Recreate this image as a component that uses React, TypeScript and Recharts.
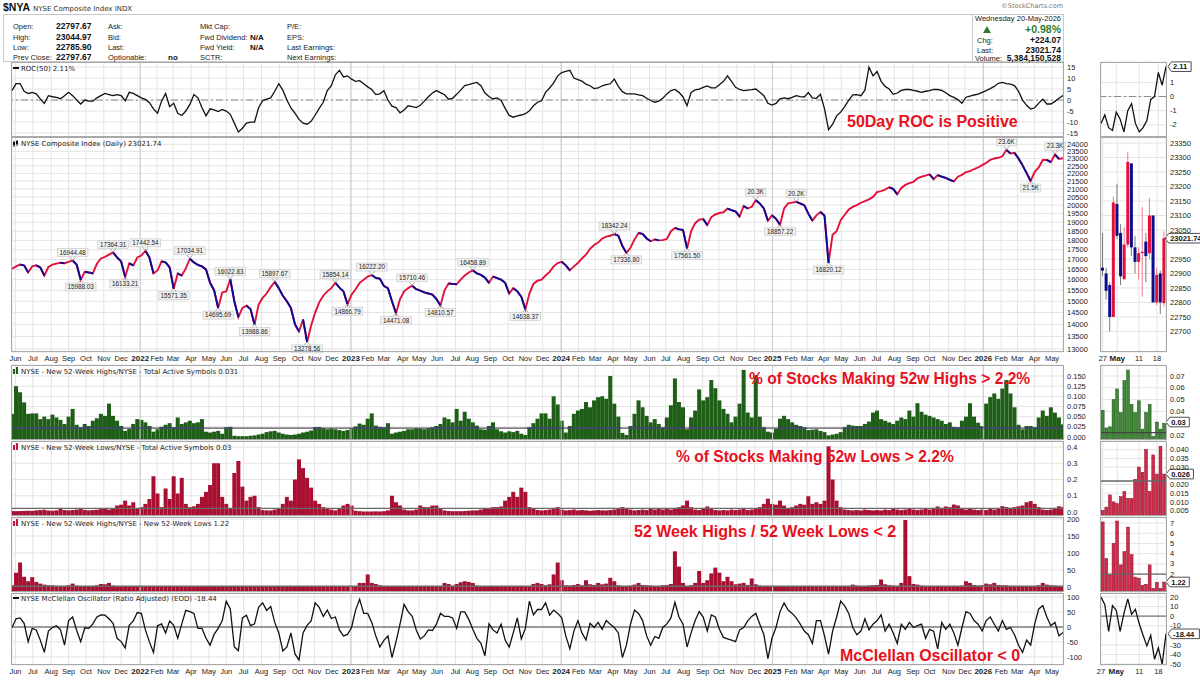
import React from "react";
import {
  ComposedChart,
  Line,
  Bar,
  XAxis,
  YAxis,
  CartesianGrid,
  ReferenceLine,
  ReferenceDot,
} from "recharts";

// ---------------- DATA (weekly samples, week 0 = 2021-05-26, week 260 = 2026-05-20) ----------------
const START_DATE = "2021-05-26";

const priceWeekly = [
  16530, 16650, 16740, 16700, 16350, 16650, 16700, 16600, 16200, 16620,
  16740, 16790, 16830, 16810, 16880, 16944.48, 16740, 15988.03, 16380, 16350,
  16300, 16780, 17050, 17130, 17250, 17364.31, 17100, 16900, 16133.21, 16800,
  16700, 17100, 17200, 17442.54, 17100, 16300, 16450, 16900, 16850, 16600,
  15571.35, 16300, 16200, 16550, 17034.91, 16850, 16720, 16650, 16500, 15850,
  15500, 14695.69, 15400, 15450, 16022.83, 15000, 14300, 14700, 14800, 14650,
  13988.86, 14850, 15150, 15350, 15650, 15897.67, 15600, 15250, 15000, 14700,
  14000, 13700, 14200, 13278.56, 13950, 14500, 14950, 15250, 15450, 15600,
  15854.14, 15620, 15450, 14866.79, 15300, 15550, 15850, 16000, 16150, 16222.2,
  16080, 16050, 15700, 15600, 15000, 14471.08, 15100, 15450, 15600, 15710.46,
  15550, 15480, 15400, 15350, 15300, 15100, 14810.57, 15500, 15820, 15800,
  15780, 16000, 16200, 16350, 16458.89, 16300, 16230, 16100, 15850, 16150,
  16080, 16000, 15850, 15350, 15600, 15450, 15200, 14638.37, 15350, 15800,
  15950, 16000, 16200, 16380, 16650, 16820, 16880, 16700, 16450, 16650,
  16820, 17050, 17250, 17550, 17750, 17880, 18100, 18200, 18250, 18342.24,
  18250, 17700, 17336.8, 17600, 18050, 18400, 18350, 18100, 17950, 18050,
  18000, 18010, 18080, 18500, 18680, 18600, 18574, 17561.5, 18500, 18950,
  19150, 19187, 18840, 19300, 19450, 19534, 19580, 19800, 19700, 19636,
  19330, 19950, 19800, 19900, 20300, 20100, 19800, 19085, 19400, 19200,
  18857.22, 19800, 20105, 20150, 20207, 20100, 20003, 19500, 19100, 19400,
  19595, 19391, 16820.12, 18300, 18500, 19126, 19432, 19738, 19900, 20000,
  20146, 20248, 20350, 20500, 20798, 20860, 20950, 21100, 21000, 20656,
  21064, 21250, 21370, 21450, 21676, 21778, 21850, 21941, 21615, 21880,
  21778, 21700, 21574, 21472, 21778, 21900, 22084, 22150, 22288, 22390,
  22550, 22696, 22900, 23002, 23050, 23150, 23600, 23350, 23390, 23000,
  22533, 22012, 21500, 22100, 22400, 22900, 22900, 22750, 23280, 22970,
  23021.74,
];

const roc50Weekly = [
  4.3, 7.5, 7.5, 4, 3, 3.5, 2.8, 0.5, -1.5, 2,
  1.5, 1.2, 0.6, 2, 3.5, 2, 0, -1.8, 0, -0.5,
  -0.5, 1, 2, 3, 2.5, 2, 2.5, 2, -0.3, 3.5,
  3, 2, 1, 0.3, -1.2, -4, -6, -0.5, 3, -3,
  -1.5, -6, -7, -5, -2, 2.5, 1, -3.5, -7.2, -4,
  -4.5, -5.2, -4.3, -5, -6.5, -10.5, -14.5, -12.8, -10.5, -10,
  -10, -3.5, -0.3, 0.4, 1, 4, 7.4, 4.5, 0, -3.6,
  -6, -8.8, -10.5, -11, -9.7, -6.8, -3.8, -1, 4.3, 6.5,
  11.5, 13.5, 10.5, 11, 9.5, 8.5, 8.8, 7.4, 6, 4.8,
  2.5, 2.8, 4.2, 0, -2.8, -3.4, -5.8, -4.5, -2.6, -3,
  -3.4, -2.4, -0.5, 1.5, 3.2, 4.3, 3.4, 2.4, 0.4, 0.8,
  2.6, 4.5, 6.6, 7, 7.6, 8, 6.5, 3.2, 1.6, 0.5,
  1, -0.2, -3.8, -7, -7.8, -7.2, -6.8, -6.2, -4.9, -2.6,
  -1, -0.3, 3.5, 5.5, 7.8, 11, 12.5, 13, 13.5, 10,
  9.3, 8.6, 7.2, 6.5, 5.2, 5.5, 6.5, 7, 7.4, 9.5,
  6.2, 3.8, 2.8, 2.8, 2.8, 2.4, 2, 0.8, -0.2, -1,
  -0.5, 0.8, 2.8, 4.3, 4.8, 3.5, 1.4, -2.6, 3.5, 4.6,
  5, 5.8, 6.4, 5.5, 5.5, 7, 8.5, 11, 8.5, 5.8,
  4.8, 4.3, 4.5, 4.7, 5, 3.5, 2, -1.5, -2.3, -1.5,
  0.5, 1, 0.6, 1.2, 2, 1.6, 1.4, 3.4, 1, 0.8,
  2.6, -4, -13.5, -11, -7.2, -5.5, -3, 0, 2.4, 2.5,
  2, 4.5, 15, 11, 13, 8.5, 6.2, 5, 2.6, 3.2,
  4.4, 4.8, 4.8, 4.4, 4, 3.5, 4, 4.3, 4.8, 4.8,
  4.4, 3.3, 2, 1.2, 0.2, -1.5, 1.3, 1.8, 2.3, 2.7,
  3.5, 4.3, 5.2, 6.2, 7.6, 8, 7.5, 7.2, 6.6, 4,
  0, -2.4, -4.1, -3.5, -1.4, 0.4, -1.8, -1.8, -0.6, 0.8,
  2.11,
];

const highsPctWeekly = [
  0.057, 0.125, 0.11, 0.085, 0.057, 0.058, 0.058, 0.044, 0.05, 0.044,
  0.055, 0.048, 0.042, 0.032, 0.05, 0.069, 0.03, 0.023, 0.032, 0.027,
  0.04, 0.046, 0.057, 0.052, 0.082, 0.052, 0.04, 0.027, 0.015, 0.02,
  0.032, 0.044, 0.042, 0.036, 0.027, 0.013, 0.019, 0.025, 0.03, 0.034,
  0.023, 0.048, 0.032, 0.036, 0.04, 0.034, 0.036, 0.044, 0.013, 0.011,
  0.013, 0.015, 0.008, 0.023, 0.025, 0.003, 0.002, 0.002, 0.002, 0.003,
  0.004, 0.006, 0.008, 0.012, 0.014, 0.015, 0.011, 0.008, 0.006, 0.005,
  0.006, 0.008, 0.011, 0.013, 0.016, 0.024, 0.024, 0.022, 0.019, 0.021,
  0.019, 0.017, 0.015, 0.017, 0.021, 0.026, 0.033, 0.03, 0.045, 0.058,
  0.028, 0.025, 0.023, 0.034, 0.008, 0.011, 0.013, 0.015, 0.019, 0.019,
  0.022, 0.021, 0.019, 0.022, 0.023, 0.027, 0.032, 0.048, 0.044, 0.036,
  0.069, 0.04, 0.062, 0.045, 0.036, 0.028, 0.019, 0.018, 0.027, 0.036,
  0.019, 0.014, 0.011, 0.014, 0.012, 0.015, 0.008, 0.005, 0.023, 0.034,
  0.045, 0.058, 0.058, 0.045, 0.1, 0.08, 0.04, 0.011, 0.027, 0.057,
  0.065, 0.069, 0.086, 0.073, 0.09, 0.098, 0.1, 0.094, 0.15, 0.082,
  0.05, 0.01, 0.005, 0.027, 0.057, 0.09, 0.073, 0.052, 0.036, 0.044,
  0.032, 0.023, 0.048, 0.078, 0.144, 0.086, 0.073, 0.019, 0.048, 0.065,
  0.117, 0.09, 0.098, 0.14, 0.12, 0.09, 0.069, 0.057, 0.036, 0.05,
  0.082, 0.165, 0.06, 0.048, 0.152, 0.05, 0.023, 0.013, 0.011, 0.02,
  0.045, 0.052, 0.044, 0.036, 0.03, 0.027, 0.023, 0.017, 0.018, 0.019,
  0.015, 0.012, 0.004, 0.006, 0.008, 0.012, 0.023, 0.03, 0.028, 0.027,
  0.027, 0.032, 0.038, 0.06, 0.065, 0.044, 0.04, 0.036, 0.032, 0.04,
  0.048, 0.044, 0.065, 0.05, 0.083, 0.062, 0.055, 0.052, 0.048, 0.044,
  0.04, 0.032, 0.036, 0.025, 0.023, 0.04, 0.05, 0.083, 0.05, 0.035,
  0.027, 0.082, 0.098, 0.107, 0.094, 0.119, 0.14, 0.107, 0.073, 0.03,
  0.019, 0.027, 0.027, 0.023, 0.048, 0.065, 0.052, 0.073, 0.06, 0.048,
  0.031,
];

const lowsPctWeekly = [
  0.006, 0.005, 0.006, 0.007, 0.008, 0.007, 0.01, 0.012, 0.014, 0.009,
  0.008, 0.01, 0.02, 0.012, 0.01, 0.012, 0.015, 0.02, 0.013, 0.01,
  0.012, 0.014, 0.018, 0.02, 0.015, 0.02, 0.04, 0.045, 0.07, 0.04,
  0.06, 0.02, 0.03, 0.05, 0.08, 0.22, 0.114, 0.03, 0.145, 0.08,
  0.22, 0.114, 0.21, 0.05, 0.03, 0.035, 0.05, 0.093, 0.124, 0.166,
  0.3, 0.3, 0.093, 0.05, 0.025, 0.24, 0.314, 0.156, 0.07, 0.093,
  0.1, 0.03, 0.012, 0.01, 0.01, 0.015, 0.02, 0.05, 0.093, 0.07,
  0.2, 0.324, 0.27, 0.21, 0.15, 0.07, 0.05, 0.03, 0.02, 0.015,
  0.01, 0.02, 0.04, 0.05, 0.04, 0.008, 0.005, 0.003, 0.003, 0.003,
  0.004, 0.003, 0.005, 0.01, 0.1, 0.06, 0.04, 0.015, 0.01, 0.01,
  0.015, 0.04, 0.03, 0.03, 0.04, 0.04, 0.02, 0.01, 0.006, 0.005,
  0.005, 0.005, 0.006, 0.008, 0.01, 0.01, 0.015, 0.02, 0.02, 0.03,
  0.03, 0.034, 0.07, 0.093, 0.124, 0.093, 0.15, 0.124, 0.03, 0.02,
  0.012, 0.01, 0.012, 0.015, 0.025, 0.03, 0.015, 0.01, 0.012, 0.015,
  0.01, 0.012, 0.01, 0.008, 0.01, 0.012, 0.01, 0.01, 0.012, 0.015,
  0.02, 0.03, 0.025, 0.015, 0.01, 0.012, 0.015, 0.012, 0.02, 0.015,
  0.02, 0.015, 0.02, 0.015, 0.025, 0.03, 0.04, 0.07, 0.03, 0.015,
  0.012, 0.02, 0.034, 0.02, 0.012, 0.01, 0.012, 0.01, 0.015, 0.012,
  0.015, 0.02, 0.012, 0.015, 0.02, 0.03, 0.05, 0.082, 0.05, 0.045,
  0.07, 0.04, 0.025, 0.03, 0.04, 0.05, 0.045, 0.097, 0.05, 0.06,
  0.05, 0.07, 0.404, 0.2, 0.07, 0.03, 0.015, 0.012, 0.01, 0.012,
  0.01, 0.015, 0.012, 0.01, 0.012, 0.01, 0.015, 0.012, 0.02, 0.015,
  0.012, 0.015, 0.02, 0.015, 0.012, 0.015, 0.02, 0.015, 0.025, 0.034,
  0.025, 0.034, 0.03, 0.046, 0.04, 0.025, 0.015, 0.02, 0.015, 0.012,
  0.015, 0.012, 0.02, 0.015, 0.025, 0.036, 0.03, 0.025, 0.03, 0.035,
  0.04, 0.06, 0.067, 0.05, 0.03, 0.015, 0.012, 0.015, 0.02, 0.035,
  0.03,
];

const hiLoRatioWeekly = [
  5, 42, 72, 30, 17, 29, 15, 10, 7, 5,
  5, 3, 3, 3, 5, 10, 4, 2, 3, 2,
  3, 5, 9, 8, 12, 4, 2, 1, 1, 1,
  1.5, 2, 1.5, 1, 0.6, 0.3, 0.4, 0.8, 0.4, 0.5,
  0.3, 0.5, 0.3, 0.8, 1, 0.8, 0.6, 0.4, 0.3, 0.2,
  0.1, 0.1, 0.2, 0.5, 0.8, 0.1, 0.1, 0.2, 0.3, 0.2,
  0.2, 0.5, 1, 1.5, 1.5, 1.2, 0.6, 0.3, 0.2, 0.2,
  0.1, 0.1, 0.1, 0.1, 0.2, 0.4, 0.6, 0.8, 1.2, 1.5,
  2, 1, 0.5, 0.4, 0.6, 3, 12, 12, 37, 12,
  9, 5, 3, 2, 0.3, 0.2, 0.4, 1, 2, 2,
  1.5, 0.6, 0.7, 0.8, 0.6, 0.7, 3, 12, 9, 4,
  9, 14, 17, 15, 12, 4, 2, 1, 1.5, 1.2,
  0.8, 0.5, 0.2, 0.2, 0.1, 0.2, 0.1, 0.1, 1, 9,
  12, 9, 5, 8, 37, 72, 20, 5, 4, 6,
  9, 5, 20, 8, 6, 12, 8, 10, 27, 17,
  5, 2, 1, 4, 7, 12, 6, 5, 4, 3,
  3, 5, 6, 9, 105, 60, 12, 0.3, 5, 12,
  47, 12, 20, 40, 57, 42, 17, 30, 17, 8,
  10, 12, 6, 25, 8, 4, 2, 0.5, 0.4, 0.6,
  0.6, 1.5, 3, 2, 1, 0.8, 0.6, 0.2, 0.5, 0.4,
  0.3, 0.2, 0.01, 0.05, 0.1, 0.5, 1.5, 3, 7, 4,
  3, 3, 4, 5, 6, 22, 8, 5, 4, 3,
  12, 197, 32, 9, 7, 4, 3, 3, 2, 2,
  2, 1.5, 2, 1.5, 2, 4, 17, 12, 6, 4,
  5, 10, 8, 12, 6, 5, 5, 3, 2, 1.5,
  1, 0.5, 0.6, 1, 5, 12, 7, 5, 4, 3,
  1.22,
];

const mcClellanWeekly = [
  -2, 27, 30, 12, -49, -5, -10, -44, -85, -14,
  -2, 4, -10, -61, 21, 33, -12, -49, -3, -5,
  10, 33, 40, 39, 27, 12, -38, -49, -70, 5,
  20, 48, 45, -10, -50, -85, 4, 10, -20, 20,
  5, -38, 10, 55, 51, 45, -5, -5, -38, -61,
  -25, -5, 20, 86, 60, -67, -79, 30, 39, 4,
  10, 65, 80, 55, 68, 15, -20, -80, -67, -20,
  -90, -110, -20, 5, 20, 80, 65, 35, 56, 28,
  33, -10, -30, -25, -2, 56, 92, 45, 45, 15,
  -30, -67, -45, -30, -102, -49, 10, 75, 51, 35,
  -10, -40, -30, -10, -12, 9, 45, 35, 35, 30,
  -5, 50, 50, 25, -8, -38, -55, -96, 10, -10,
  -20, 9, -44, -67, -20, 30, -40, -5, 86, 40,
  58, 58, 80, 39, 56, 45, 30, -30, -73, -14,
  21, -20, -44, 12, -2, 15, -8, 21, 9, -2,
  -20, -102, -61, 9, 56, 45, 21, -30, -61, -32,
  -38, -2, 10, 30, 82, 33, 9, -67, -20, 21,
  51, 33, -14, 40, 33, -8, -35, -40, -44, -49,
  -10, -2, 20, 35, 45, 9, -26, -106, -38, -2,
  51, 80, 56, 45, 30, 9, -14, -26, -55, 21,
  21, -30, -91, -14, 33, 86, 70, 45, -2, -26,
  -14, 27, -10, 9, 21, 40, -14, 9, -20, -55,
  9, -8, 15, -2, 4, 9, -38, -8, -14, -73,
  15, -8, 9, -20, -61, -2, 51, 45, 21, 9,
  -14, 21, 33, 9, -14, 21, -8, -2, -26, -61,
  -85, -44, -61, 10, 60, 71, 33, 4, 15, -30,
  -18.44,
];

const monthTickDates = [
  "2021-06-01", "2021-07-01", "2021-08-02", "2021-09-01", "2021-10-01", "2021-11-01", "2021-12-01",
  "2022-01-03", "2022-02-01", "2022-03-01", "2022-04-01", "2022-05-02", "2022-06-01", "2022-07-01",
  "2022-08-01", "2022-09-01", "2022-10-03", "2022-11-01", "2022-12-01",
  "2023-01-03", "2023-02-01", "2023-03-01", "2023-04-03", "2023-05-01", "2023-06-01", "2023-07-03",
  "2023-08-01", "2023-09-01", "2023-10-02", "2023-11-01", "2023-12-01",
  "2024-01-02", "2024-02-01", "2024-03-01", "2024-04-01", "2024-05-01", "2024-06-03", "2024-07-01",
  "2024-08-01", "2024-09-03", "2024-10-01", "2024-11-01", "2024-12-02",
  "2025-01-02", "2025-02-03", "2025-03-03", "2025-04-01", "2025-05-01", "2025-06-02", "2025-07-01",
  "2025-08-01", "2025-09-02", "2025-10-01", "2025-11-03", "2025-12-01",
  "2026-01-02", "2026-02-02", "2026-03-02", "2026-04-01", "2026-05-01",
];
const monthTickLabels = [
  "Jun", "Jul", "Aug", "Sep", "Oct", "Nov", "Dec",
  "2022", "Feb", "Mar", "Apr", "May", "Jun", "Jul", "Aug", "Sep", "Oct", "Nov", "Dec",
  "2023", "Feb", "Mar", "Apr", "May", "Jun", "Jul", "Aug", "Sep", "Oct", "Nov", "Dec",
  "2024", "Feb", "Mar", "Apr", "May", "Jun", "Jul", "Aug", "Sep", "Oct", "Nov", "Dec",
  "2025", "Feb", "Mar", "Apr", "May", "Jun", "Jul", "Aug", "Sep", "Oct", "Nov", "Dec",
  "2026", "Feb", "Mar", "Apr", "May",
];

const priceTags = [
  { week: 15, value: 16944.48, text: "16944.48", up: true },
  { week: 17, value: 15988.03, text: "15988.03", up: false },
  { week: 25, value: 17364.31, text: "17364.31", up: true },
  { week: 28, value: 16133.21, text: "16133.21", up: false },
  { week: 33, value: 17442.54, text: "17442.54", up: true },
  { week: 40, value: 15571.35, text: "15571.35", up: false },
  { week: 44, value: 17034.91, text: "17034.91", up: true },
  { week: 51, value: 14695.69, text: "14695.69", up: false },
  { week: 54, value: 16022.83, text: "16022.83", up: true },
  { week: 60, value: 13988.86, text: "13988.86", up: false },
  { week: 65, value: 15897.67, text: "15897.67", up: true },
  { week: 73, value: 13278.56, text: "13278.56", up: false },
  { week: 80, value: 15854.14, text: "15854.14", up: true },
  { week: 83, value: 14866.79, text: "14866.79", up: false },
  { week: 89, value: 16222.2, text: "16222.20", up: true },
  { week: 95, value: 14471.08, text: "14471.08", up: false },
  { week: 99, value: 15710.46, text: "15710.46", up: true },
  { week: 106, value: 14810.57, text: "14810.57", up: false },
  { week: 114, value: 16458.89, text: "16458.89", up: true },
  { week: 127, value: 14638.37, text: "14638.37", up: false },
  { week: 149, value: 18342.24, text: "18342.24", up: true },
  { week: 152, value: 17336.8, text: "17336.80", up: false },
  { week: 167, value: 17561.5, text: "17561.50", up: false },
  { week: 184, value: 20300, text: "20.3K", up: true },
  { week: 190, value: 18857.22, text: "18857.22", up: false },
  { week: 194, value: 20207, text: "20.2K", up: true },
  { week: 202, value: 16820.12, text: "16820.12", up: false },
  { week: 246, value: 23600, text: "23.6K", up: true },
  { week: 252, value: 21500, text: "21.5K", up: false },
  { week: 258, value: 23300, text: "23.3K", up: true },
];

// side panel: last 18 sessions (27 Apr - 20 May 2026)
const sideDays = ["27", "28", "29", "30", "May", "4", "5", "6", "7", "8", "11", "12", "13", "14", "15", "18", "19", "20"];
const sideOpen = [22920, 22900, 22860, 22750, 23140, 23040, 22880, 23000, 23280, 22990, 22940, 22970, 23010, 22970, 23100, 22800, 22900, 22797.67];
const sideHigh = [23040, 22920, 22870, 23165, 23210, 23070, 23060, 23320, 23280, 23030, 22990, 23130, 23040, 23160, 23100, 22920, 22910, 23044.97];
const sideLow = [22890, 22810, 22700, 22750, 23020, 22860, 22880, 22990, 22960, 22900, 22880, 22820, 22870, 22950, 22800, 22790, 22760, 22785.9];
const sideClose = [22910, 22840, 22750, 23145, 23030, 22890, 23000, 23285, 22990, 22940, 22970, 22975, 22960, 23100, 22800, 22895, 22800, 23021.74];
const sideRoc = [-1.9, -1.3, -2.2, -2.4, -1.1, -1.6, -2.5, -1.0, -0.5, -1.9, -2.5, -2.2, -1.7, -0.2, 0.0, 1.7, 0.8, 2.11];
const sideHighs = [0.041, 0.026, 0.027, 0.05, 0.059, 0.039, 0.066, 0.075, 0.046, 0.039, 0.049, 0.025, 0.039, 0.046, 0.019, 0.031, 0.025, 0.03];
const sideLows = [0.005, 0.007, 0.014, 0.01, 0.009, 0.013, 0.016, 0.012, 0.012, 0.023, 0.03, 0.027, 0.04, 0.016, 0.037, 0.026, 0.042, 0.026];
const sideRatio = [7.1, 3.5, 1.9, 5.0, 7.2, 2.9, 4.2, 6.6, 3.9, 1.7, 1.6, 0.9, 1.0, 2.9, 0.6, 1.2, 0.6, 1.22];
const sideMco = [20, 12, -16, 11, 6, -16, 3, 18, 2, 7, -8, -20, -31, -20, -45, -33, -50, -18.44];

const priceTicks = [13000, 13500, 14000, 14500, 15000, 15500, 16000, 16500, 17000, 17500, 18000, 18500, 19000, 19500, 20000, 20500, 21000, 21500, 22000, 22500, 23000, 23500, 24000];
const sidePriceTicks = [22700, 22750, 22800, 22850, 22900, 22950, 23050, 23100, 23150, 23200, 23250, 23300, 23350];

// ---------------- derived tables ----------------
const WEEK_MS = 7 * 86400000;
const startMs = Date.parse(START_DATE + "T00:00:00Z");
const monthPos = monthTickDates.map((d) => (Date.parse(d + "T00:00:00Z") - startMs) / WEEK_MS);
const yearPos = monthPos.filter((_, i) => /^\d{4}$/.test(monthTickLabels[i]));

const mainData: any[] = priceWeekly.map((p, i) => ({
  w: i,
  price: p,
  roc: roc50Weekly[i],
  hi: highsPctWeekly[i],
  lo: lowsPctWeekly[i],
  ratio: hiLoRatioWeekly[i],
  mco: mcClellanWeekly[i],
}));
for (let i = 1; i < priceWeekly.length; i++) {
  if (priceWeekly[i] < priceWeekly[i - 1]) {
    const k = "b" + (i % 3);
    mainData[i - 1][k] = priceWeekly[i - 1];
    mainData[i][k] = priceWeekly[i];
  }
}

const sideData = sideDays.map((d, i) => ({
  d,
  o: sideOpen[i],
  h: sideHigh[i],
  l: sideLow[i],
  c: sideClose[i],
  roc: sideRoc[i],
  hi: sideHighs[i],
  lo: sideLows[i],
  ratio: sideRatio[i],
  mco: sideMco[i],
}));

// ---------------- layout ----------------
const ROC_DOM = [-16.8, 17.3];
const PRICE_DOM = [12884, 24530]; // log scale
const HI_DOM = [-0.0074, 0.177];
const LO_DOM = [-0.0246, 0.437];
const RATIO_DOM = [-14.7, 205.9];
const MCO_DOM = [-127, 113];

const S_ROC_DOM = [-2.86, 2.44];
const S_PRICE_DOM = [22629, 23371];
const S_HI_DOM = [0.0158, 0.0793];
const S_LO_DOM = [0.0019, 0.045];
const S_RATIO_DOM = [0.24, 7.59];
const S_MCO_DOM = [-51, 24.2];

const FONT_V = "'DejaVu Sans', Verdana, sans-serif";
const FONT_A = "'Liberation Sans', Arial, Helvetica, sans-serif";
const PAD = 6;
const SIDE_LEFT = 1088;

const PANELS = {
  roc: [62, 137],
  price: [137, 352],
  hi: [365, 440],
  lo: [441, 516],
  ratio: [517, 592],
  mco: [593, 665],
};

const yTick = { fontSize: 7.5, fill: "#222", fontFamily: FONT_A };

function MonthTick(props: any) {
  const { x, y, payload } = props;
  const idx = monthPos.findIndex((p) => Math.abs(p - payload.value) < 1e-6);
  const label = idx >= 0 ? monthTickLabels[idx] : "";
  const isYear = /^\d{4}$/.test(label);
  return (
    <text x={x} y={y + 9} textAnchor="middle" fontSize={isYear ? 8 : 7.5} fontWeight={isYear ? 700 : 400} fontFamily={FONT_A} fill="#222">
      {label}
    </text>
  );
}

function SideTick(props: any) {
  const { x, y, payload } = props;
  const isM = payload.value === "May";
  return (
    <text x={x} y={y + 9} textAnchor="middle" fontSize={isM ? 8 : 7.5} fontWeight={isM ? 700 : 400} fontFamily={FONT_A} fill="#222">
      {payload.value}
    </text>
  );
}

function PriceTag(props: any) {
  const { cx, cy, text, up } = props;
  if (cx == null || cy == null) return null;
  const w = text.length * 3.45 + 3;
  const h = 8;
  const by = up ? cy - 4 - h : cy + 3;
  const py = up ? by + h : by;
  return (
    <g>
      <polyline points={`${cx - 3},${py} ${cx},${cy} ${cx + 3},${py}`} fill="none" stroke="#9a9a9a" strokeWidth={0.8} />
      <rect x={cx - w / 2} y={by} width={w} height={h} fill="#f1f1f1" stroke="#c4c4c4" strokeWidth={0.6} />
      <text x={cx} y={by + 6.3} textAnchor="middle" fontSize={6.3} fill="#222" fontFamily={FONT_A}>
        {text}
      </text>
    </g>
  );
}

function ValueBox(props: any) {
  const { cx, cy, text, dx } = props;
  if (cx == null || cy == null) return null;
  const bx = cx + dx;
  const w = text.length * 4.15 + 3;
  return (
    <g>
      <path d={`M${bx} ${cy} L${bx + 3.5} ${cy - 4.8} L${bx + 3.5 + w} ${cy - 4.8} L${bx + 3.5 + w} ${cy + 4.8} L${bx + 3.5} ${cy + 4.8} Z`} fill="#fff" stroke="#222" strokeWidth={0.8} />
      <text x={bx + 5} y={cy + 2.8} fontSize={7.5} fontWeight={700} fontFamily={FONT_A} fill="#111">
        {text}
      </text>
    </g>
  );
}

function rangeShape(fill: string, min: number, key: string, line?: number, lineColor?: string) {
  return (props: any) => {
    const { x, y, width, height, payload } = props;
    if (x == null || y == null) return null;
    const top = Math.min(y, y + height);
    const h = Math.abs(height);
    const v = payload[key];
    const els = [<rect key="b" x={x} y={top} width={width} height={h} fill={fill} />];
    if (line != null && v > line && h > 0) {
      const ly = top + ((v - line) / (v - min)) * h;
      els.push(<rect key="l" x={x - 0.3} y={ly - 0.7} width={width + 0.6} height={1.4} fill={lineColor} />);
    }
    return <g>{els}</g>;
  };
}

function sideBarShape(fill: string, stroke: string) {
  return (props: any) => {
    const { x, y, width, height } = props;
    if (x == null || y == null) return null;
    const top = Math.min(y, y + height);
    return <rect x={x + 0.25} y={top} width={Math.max(0, width - 0.5)} height={Math.abs(height)} fill={fill} stroke={stroke} strokeWidth={0.5} />;
  };
}

function CandleShape(props: any) {
  const { x, y, width, height, payload } = props;
  if (x == null || y == null) return null;
  const top = Math.min(y, y + height);
  const h = Math.abs(height);
  const k = h / (payload.h - payload.l || 1);
  const yo = top + (payload.h - payload.o) * k;
  const yc = top + (payload.h - payload.c) * k;
  const up = payload.c >= payload.o;
  const cx = x + width / 2;
  return (
    <g>
      <line x1={cx} x2={cx} y1={top} y2={top + h} stroke={up ? "#f07a8c" : "#7a7a7a"} strokeWidth={1} />
      <rect x={x} y={Math.min(yo, yc)} width={width} height={Math.max(1, Math.abs(yo - yc))} fill={up ? "#e2103a" : "#0c0c8c"} />
    </g>
  );
}

type PanelProps = {
  top: number;
  plotH: number;
  axisH?: number;
  domain: number[];
  ticks: number[];
  fmt?: (v: number) => string;
  log?: boolean;
  children?: React.ReactNode;
};

function MainPanel(props: PanelProps) {
  const axisH = props.axisH ?? 0;
  const H = props.plotH + axisH + 2 * PAD;
  return (
    <div style={{ position: "absolute", left: 0, top: props.top - PAD, width: 1100, height: H }}>
      <ComposedChart width={1100} height={H} data={mainData} margin={{ top: PAD, right: 0, bottom: PAD, left: 12 }}>
        <CartesianGrid stroke="#e4e4e4" strokeWidth={1} />
        <XAxis
          type="number"
          dataKey="w"
          domain={[0, 260]}
          ticks={monthPos}
          interval={0}
          hide={axisH === 0}
          height={axisH || 1}
          axisLine={false}
          tickLine={false}
          tickSize={0}
          tickMargin={0}
          tick={<MonthTick />}
          allowDataOverflow
        />
        <YAxis
          orientation="right"
          width={37}
          scale={props.log ? "log" : "auto"}
          domain={props.domain}
          ticks={props.ticks}
          tickFormatter={props.fmt}
          interval={0}
          axisLine={false}
          tickLine={false}
          tickSize={0}
          tickMargin={4}
          tick={yTick}
          allowDataOverflow
        />
        {yearPos.map((p) => (
          <ReferenceLine key={"y" + p} x={p} stroke="#c9c9c9" strokeWidth={1} />
        ))}
        {props.children}
      </ComposedChart>
    </div>
  );
}

function SidePanel(props: PanelProps) {
  const axisH = props.axisH ?? 0;
  const H = props.plotH + axisH + 2 * PAD;
  const W = 1200 - SIDE_LEFT;
  return (
    <div style={{ position: "absolute", left: SIDE_LEFT, top: props.top - PAD, width: W, height: H }}>
      <ComposedChart width={W} height={H} data={sideData} margin={{ top: PAD, right: 0, bottom: PAD, left: 1101 - SIDE_LEFT }} barCategoryGap={0}>
        <CartesianGrid stroke="#e4e4e4" strokeWidth={1} />
        <XAxis
          type="category"
          dataKey="d"
          ticks={["27", "May", "11", "18"]}
          interval={0}
          hide={axisH === 0}
          height={axisH || 1}
          axisLine={false}
          tickLine={false}
          tickSize={0}
          tickMargin={0}
          tick={<SideTick />}
        />
        <YAxis
          orientation="right"
          width={34}
          domain={props.domain}
          ticks={props.ticks}
          tickFormatter={props.fmt}
          interval={0}
          axisLine={false}
          tickLine={false}
          tickSize={0}
          tickMargin={4}
          tick={yTick}
          allowDataOverflow
        />
        {props.children}
      </ComposedChart>
    </div>
  );
}

export default function App() {
  const [rT, rB] = PANELS.roc;
  const [pT, pB] = PANELS.price;
  const [hT, hB] = PANELS.hi;
  const [lT, lB] = PANELS.lo;
  const [qT, qB] = PANELS.ratio;
  const [mT, mB] = PANELS.mco;
  const lastIdx = sideDays[sideDays.length - 1];
  const panelRects = Object.values(PANELS);
  const rowsY = [29, 39.5, 50, 60];

  return (
    <div style={{ position: "absolute", left: 0, top: 0, width: 1200, height: 681, background: "#fff", overflow: "hidden" }}>
      {/* ROC(50) */}
      <MainPanel top={rT} plotH={rB - rT} domain={ROC_DOM} ticks={[-15, -10, -5, 0, 5, 10, 15]}>
        <ReferenceLine y={0} stroke="#8a8a8a" strokeDasharray="7 3 2 3" />
        <Line dataKey="roc" stroke="#111" strokeWidth={1.3} dot={false} isAnimationActive={false} />
      </MainPanel>

      {/* Price (log scale) */}
      <MainPanel top={pT} plotH={pB - pT} axisH={13} domain={PRICE_DOM} ticks={priceTicks} log>
        <Line dataKey="price" stroke="#e2103a" strokeWidth={1.9} dot={false} isAnimationActive={false} />
        <Line dataKey="b0" stroke="#0a0a96" strokeWidth={1.9} dot={false} connectNulls={false} isAnimationActive={false} />
        <Line dataKey="b1" stroke="#0a0a96" strokeWidth={1.9} dot={false} connectNulls={false} isAnimationActive={false} />
        <Line dataKey="b2" stroke="#0a0a96" strokeWidth={1.9} dot={false} connectNulls={false} isAnimationActive={false} />
        {priceTags.map((t) => (
          <ReferenceDot
            key={t.text + t.week}
            x={t.week}
            y={t.value}
            r={0}
            shape={(p: any) => <PriceTag cx={p.cx} cy={p.cy} text={t.text} up={t.up} />}
          />
        ))}
      </MainPanel>

      {/* New highs % */}
      <MainPanel top={hT} plotH={hB - hT} domain={HI_DOM} ticks={[0, 0.025, 0.05, 0.075, 0.1, 0.125, 0.15]} fmt={(v) => v.toFixed(3)}>
        <ReferenceLine y={0.022} stroke="#555" strokeWidth={1.2} />
        <Bar
          dataKey={(d: any) => [HI_DOM[0], d.hi]}
          barSize={4}
          isAnimationActive={false}
          shape={rangeShape("#1f5e17", HI_DOM[0], "hi", 0.022, "#1a2cb0")}
        />
      </MainPanel>

      {/* New lows % */}
      <MainPanel top={lT} plotH={lB - lT} domain={LO_DOM} ticks={[0, 0.1, 0.2, 0.3, 0.4]} fmt={(v) => v.toFixed(1)}>
        <Bar dataKey={(d: any) => [LO_DOM[0], d.lo]} barSize={4} isAnimationActive={false} shape={rangeShape("#a80f31", LO_DOM[0], "lo")} />
        <ReferenceLine y={0.022} stroke="#6a6a6a" strokeWidth={1.3} />
      </MainPanel>

      {/* Highs / Lows ratio */}
      <MainPanel top={qT} plotH={qB - qT} domain={RATIO_DOM} ticks={[0, 50, 100, 150, 200]}>
        <Bar dataKey={(d: any) => [RATIO_DOM[0], d.ratio]} barSize={4} isAnimationActive={false} shape={rangeShape("#a80f31", RATIO_DOM[0], "ratio")} />
        <ReferenceLine y={2} stroke="#6a6a6a" strokeWidth={1.5} />
      </MainPanel>

      {/* McClellan */}
      <MainPanel top={mT} plotH={mB - mT} axisH={14} domain={MCO_DOM} ticks={[-100, -50, 0, 50, 100]}>
        <ReferenceLine y={0} stroke="#9a9a9a" strokeWidth={2} />
        <Line dataKey="mco" stroke="#111" strokeWidth={1.3} dot={false} isAnimationActive={false} />
      </MainPanel>

      {/* ---- side panels ---- */}
      <SidePanel top={rT} plotH={rB - rT} domain={S_ROC_DOM} ticks={[-2, -1, 0, 1]}>
        <ReferenceLine y={0} stroke="#8a8a8a" strokeDasharray="7 3 2 3" />
        <Line dataKey="roc" stroke="#111" strokeWidth={1.3} dot={false} isAnimationActive={false} />
        <ReferenceDot x={lastIdx} y={2.11} r={0} shape={(p: any) => <ValueBox cx={p.cx} cy={p.cy} dx={2} text="2.11" />} />
      </SidePanel>

      <SidePanel top={pT} plotH={pB - pT} axisH={13} domain={S_PRICE_DOM} ticks={sidePriceTicks}>
        <Bar dataKey={(d: any) => [d.l, d.h]} barSize={3} isAnimationActive={false} shape={CandleShape} />
        <ReferenceDot x={lastIdx} y={23021.74} r={0} shape={(p: any) => <ValueBox cx={p.cx} cy={p.cy} dx={1} text="23021.74" />} />
      </SidePanel>

      <SidePanel top={hT} plotH={hB - hT} domain={S_HI_DOM} ticks={[0.02, 0.04, 0.05, 0.06, 0.07]} fmt={(v) => v.toFixed(2)}>
        <Bar dataKey={(d: any) => [S_HI_DOM[0], d.hi]} barSize={3.4} isAnimationActive={false} shape={sideBarShape("#3f8a35", "#1d4a16")} />
        <ReferenceLine y={0.022} stroke="#444" strokeWidth={1.3} />
        <ReferenceDot x={lastIdx} y={0.031} r={0} shape={(p: any) => <ValueBox cx={p.cx} cy={p.cy} dx={2} text="0.03" />} />
      </SidePanel>

      <SidePanel top={lT} plotH={lB - lT} domain={S_LO_DOM} ticks={[0.005, 0.01, 0.015, 0.02, 0.03, 0.035, 0.04]} fmt={(v) => v.toFixed(3)}>
        <Bar dataKey={(d: any) => [S_LO_DOM[0], d.lo]} barSize={3.4} isAnimationActive={false} shape={sideBarShape("#cf2c4c", "#8a0c26")} />
        <ReferenceLine y={0.022} stroke="#666" strokeWidth={1.3} />
        <ReferenceDot x={lastIdx} y={0.026} r={0} shape={(p: any) => <ValueBox cx={p.cx} cy={p.cy} dx={2} text="0.026" />} />
      </SidePanel>

      <SidePanel top={qT} plotH={qB - qT} domain={S_RATIO_DOM} ticks={[2, 3, 4, 5, 6, 7]}>
        <Bar dataKey={(d: any) => [S_RATIO_DOM[0], d.ratio]} barSize={3.4} isAnimationActive={false} shape={sideBarShape("#cf2c4c", "#8a0c26")} />
        <ReferenceLine y={2} stroke="#666" strokeWidth={1.3} />
        <ReferenceDot x={lastIdx} y={1.22} r={0} shape={(p: any) => <ValueBox cx={p.cx} cy={p.cy} dx={2} text="1.22" />} />
      </SidePanel>

      <SidePanel top={mT} plotH={mB - mT} axisH={14} domain={S_MCO_DOM} ticks={[-50, -40, -30, -10, 0, 10, 20]}>
        <ReferenceLine y={0} stroke="#777" strokeWidth={1.2} />
        <Line dataKey="mco" stroke="#111" strokeWidth={1.3} dot={false} isAnimationActive={false} />
        <ReferenceDot x={lastIdx} y={-18.44} r={0} shape={(p: any) => <ValueBox cx={p.cx} cy={p.cy} dx={2} text="-18.44" />} />
      </SidePanel>

      {/* ---- overlay: header, borders, titles, annotations ---- */}
      <svg width={1200} height={681} style={{ position: "absolute", left: 0, top: 0, pointerEvents: "none" }}>
        {panelRects.map(([t, b], i) => (
          <g key={i}>
            <rect x={11.5} y={t + 0.5} width={1052} height={b - t - 1} fill="none" stroke="#a9a9a9" strokeWidth={1} />
            <rect x={1100.5} y={t + 0.5} width={66} height={b - t - 1} fill="none" stroke="#a9a9a9" strokeWidth={1} />
          </g>
        ))}

        {/* header */}
        <text x={3} y={11} fontSize={10.5} fontWeight={700} fontFamily={FONT_A} fill="#111">$NYA</text>
        <text x={33} y={11} fontSize={7} fontFamily={FONT_V} fill="#333">NYSE Composite Index  INDX</text>
        <text x={1063} y={8} fontSize={6.5} fontFamily={FONT_V} fill="#777" textAnchor="end">©StockCharts.com</text>
        <rect x={3.5} y={14.5} width={1060} height={47} fill="none" stroke="#c9c9c9" />
        <rect x={972.5} y={14.5} width={91} height={47} fill="none" stroke="#c9c9c9" />

        {[
          ["Open:", "22797.67"],
          ["High:", "23044.97"],
          ["Low:", "22785.90"],
          ["Prev Close:", "22797.67"],
        ].map(([l, v], i) => (
          <g key={l}>
            <text x={13} y={rowsY[i]} fontSize={7.5} fontFamily={FONT_A} fill="#222">{l}</text>
            <text x={56} y={rowsY[i]} fontSize={8.5} fontWeight={700} fontFamily={FONT_A} fill="#111">{v}</text>
          </g>
        ))}
        {["Ask:", "Bid:", "Last:", "Optionable:"].map((l, i) => (
          <text key={l} x={108} y={rowsY[i]} fontSize={7.5} fontFamily={FONT_A} fill="#222">{l}</text>
        ))}
        <text x={168} y={rowsY[3]} fontSize={8} fontWeight={700} fontFamily={FONT_A} fill="#111">no</text>
        {["Mkt Cap:", "Fwd Dividend:", "Fwd Yield:", "SCTR:"].map((l, i) => (
          <text key={l} x={200} y={rowsY[i]} fontSize={7.5} fontFamily={FONT_A} fill="#222">{l}</text>
        ))}
        <text x={250} y={rowsY[1]} fontSize={8} fontWeight={700} fontFamily={FONT_A} fill="#111">N/A</text>
        <text x={250} y={rowsY[2]} fontSize={8} fontWeight={700} fontFamily={FONT_A} fill="#111">N/A</text>
        {["P/E:", "EPS:", "Last Earnings:", "Next Earnings:"].map((l, i) => (
          <text key={l} x={287} y={rowsY[i]} fontSize={7.5} fontFamily={FONT_A} fill="#222">{l}</text>
        ))}

        <text x={975} y={21} fontSize={7.5} fontFamily={FONT_A} fill="#222">Wednesday</text>
        <text x={1061} y={21} fontSize={7.5} fontFamily={FONT_A} fill="#222" textAnchor="end">20-May-2026</text>
        <path d="M983 33 L987 26 L991 33 Z" fill="#2e7d32" />
        <text x={1061} y={33} fontSize={10.5} fontWeight={700} fontFamily={FONT_A} fill="#2e7d32" textAnchor="end">+0.98%</text>
        <text x={977} y={43} fontSize={7.5} fontFamily={FONT_A} fill="#222">Chg:</text>
        <text x={1061} y={43} fontSize={8.5} fontWeight={700} fontFamily={FONT_A} fill="#111" textAnchor="end">+224.07</text>
        <text x={977} y={52.5} fontSize={7.5} fontFamily={FONT_A} fill="#222">Last:</text>
        <text x={1061} y={52.5} fontSize={8.5} fontWeight={700} fontFamily={FONT_A} fill="#111" textAnchor="end">23021.74</text>
        <text x={975} y={61} fontSize={7.5} fontFamily={FONT_A} fill="#222">Volume:</text>
        <text x={1061} y={61} fontSize={8.5} fontWeight={700} fontFamily={FONT_A} fill="#111" textAnchor="end">5,384,150,528</text>

        {/* panel titles */}
        <line x1={13} x2={19} y1={68} y2={68} stroke="#111" strokeWidth={2} />
        <text x={21} y={70.5} fontSize={7} fontFamily={FONT_V} fill="#222">ROC(50) 2.11%</text>

        <g>
          <line x1={14} x2={14} y1={141} y2={147} stroke="#111" strokeWidth={1} />
          <line x1={17} x2={17} y1={140} y2={146} stroke="#111" strokeWidth={1} />
          <rect x={13} y={142} width={2} height={3} fill="#111" />
          <rect x={16} y={141} width={2} height={3} fill="#111" />
        </g>
        <text x={21} y={146} fontSize={7} fontFamily={FONT_V} fill="#222">NYSE Composite Index (Daily) 23021.74</text>

        <g>
          <rect x={13} y={369} width={2} height={5} fill="#1f5e17" />
          <rect x={16} y={367} width={2} height={7} fill="#1f5e17" />
        </g>
        <text x={21} y={373.5} fontSize={7} fontFamily={FONT_V} fill="#222">NYSE - New 52-Week Highs/NYSE - Total Active Symbols 0.031</text>

        <g>
          <rect x={13} y={445} width={2} height={5} fill="#c2183e" />
          <rect x={16} y={443} width={2} height={7} fill="#c2183e" />
        </g>
        <text x={21} y={449.5} fontSize={7} fontFamily={FONT_V} fill="#222">NYSE - New 52-Week Lows/NYSE - Total Active Symbols 0.03</text>

        <g>
          <rect x={13} y={521} width={2} height={5} fill="#c2183e" />
          <rect x={16} y={519} width={2} height={7} fill="#c2183e" />
        </g>
        <text x={21} y={525.5} fontSize={7} fontFamily={FONT_V} fill="#222">NYSE - New 52-Week Highs/NYSE - New 52-Week Lows 1.22</text>

        <line x1={13} x2={19} y1={598} y2={598} stroke="#111" strokeWidth={2} />
        <text x={21} y={600.5} fontSize={7} fontFamily={FONT_V} fill="#222">NYSE McClellan Oscillator (Ratio Adjusted) (EOD) -18.44</text>

        {/* red annotations */}
        <g fontFamily={FONT_A} fontWeight={700} fontSize={16} fill="#e8101c">
          <text x={847} y={127}>50Day ROC is Positive</text>
          <text x={749} y={384} fontSize={15.6}>% of Stocks Making 52w Highs &gt; 2.2%</text>
          <text x={676} y={462} fontSize={15.6}>% of Stocks Making 52w Lows &gt; 2.2%</text>
          <text x={634} y={537}>52 Week Highs / 52 Week Lows &lt; 2</text>
          <text x={840} y={661}>McClellan Oscillator &lt; 0</text>
        </g>
      </svg>
    </div>
  );
}
